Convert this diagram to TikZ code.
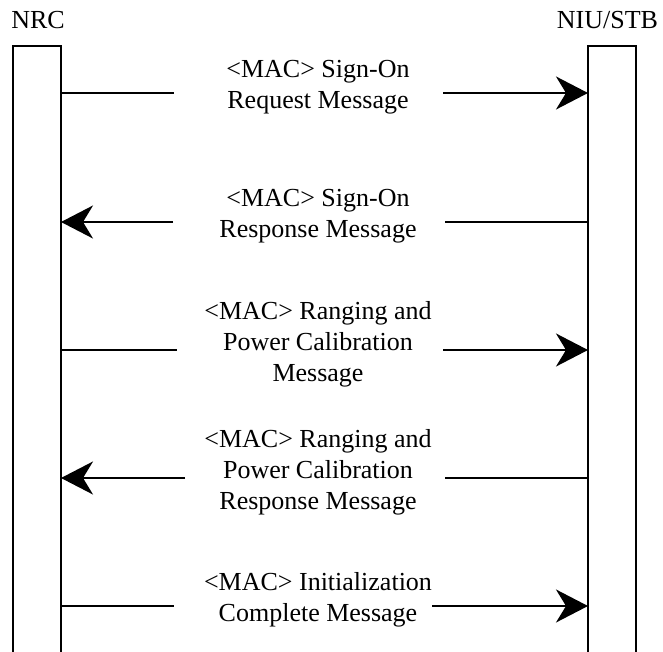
\documentclass[tikz,border=0pt]{standalone}
\usepackage{fontspec}
\setmainfont{Liberation Serif}
\usetikzlibrary{arrows.meta}
\begin{document}
\begin{tikzpicture}[x=1pt,y=-1pt,
  msg/.style={align=center,inner sep=0pt,font=\fontsize{26}{31}\selectfont},
  lbl/.style={anchor=base,inner sep=0pt,font=\fontsize{26}{31}\selectfont},
  life/.style={line width=2pt},
  conn/.style={line width=2pt},
  tip/.style={-{Stealth[length=32pt,width=33pt,inset=10pt]}}]
\useasboundingbox (0,0) rectangle (663,652);
% lifelines
\coordinate (L1) at (13,652); \coordinate (L2) at (13,46);
\coordinate (L3) at (61,46); \coordinate (L4) at (61,652);
\coordinate (R1) at (588,652); \coordinate (R2) at (588,46);
\coordinate (R3) at (636,46); \coordinate (R4) at (636,652);
\draw[life] (L1) -- (L2) -- (L3) -- (L4);
\draw[life] (R1) -- (R2) -- (R3) -- (R4);
\node[lbl] (nrc) at (38,29) {NRC};
\node[lbl] (niu) at (607.5,29) {NIU/STB};
% messages
\foreach \k/\y/\xl/\xr/\txt/\dir in {
  1/93/174/443/{<MAC> Sign-On\\Request Message}/r,
  2/222/173/445/{<MAC> Sign-On\\Response Message}/l,
  3/350/177/443/{<MAC> Ranging and\\Power Calibration\\Message}/r,
  4/478/185/445/{<MAC> Ranging and\\Power Calibration\\Response Message}/l,
  5/606/174/432/{<MAC> Initialization\\Complete Message}/r}{
  \node[msg] (m\k) at (318,\y-5.75) {\txt};
  \coordinate (a\k) at (61,\y);
  \coordinate (b\k) at (588,\y);
  \coordinate (l\k) at (\xl,\y);
  \coordinate (r\k) at (\xr,\y);
  \if r\dir
    \draw[conn] (a\k) -- (l\k);
    \draw[conn,tip] (r\k) -- (b\k);
  \else
    \draw[conn,tip] (l\k) -- (a\k);
    \draw[conn] (b\k) -- (r\k);
  \fi
}
\end{tikzpicture}
\end{document}
